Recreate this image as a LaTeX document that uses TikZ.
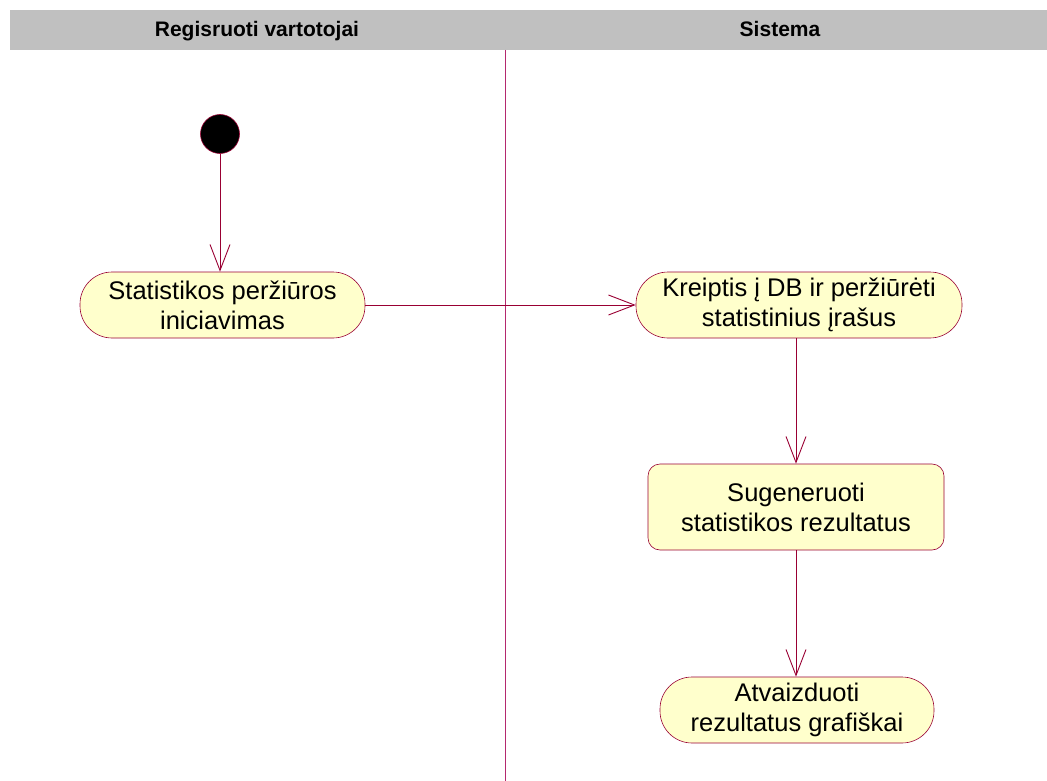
\documentclass[tikz,border=0pt]{standalone}
\usepackage{fontspec}
\setmainfont{Liberation Sans}
\usepackage{tikz}
\usetikzlibrary{arrows.meta}
\definecolor{umlline}{RGB}{153,0,51}
\definecolor{laneline}{RGB}{180,40,110}
\definecolor{umlfill}{RGB}{255,255,204}
\definecolor{lanegray}{RGB}{192,192,192}

\begin{document}
\begin{tikzpicture}[x=1pt, y=-1pt, >={Straight Barb[length=26pt,width=20pt,line width=0.9pt]}, semithick]
    \tikzstyle{lane}=[font=\fontsize{21}{24}\selectfont\bfseries, inner sep=0pt, anchor=base]
    \tikzstyle{start}=[circle, fill=black, draw=umlline, minimum size=39pt, inner sep=0pt]
    \tikzstyle{act}=[rectangle, draw=umlline, fill=umlfill, rounded corners=32pt, minimum height=66pt, align=center, inner sep=0pt, font=\fontsize{25.5}{30}\selectfont]
    \tikzstyle{actbox}=[rectangle, draw=umlline, fill=umlfill, rounded corners=12pt, minimum height=86pt, align=center, inner sep=0pt, font=\fontsize{25.5}{30}\selectfont]
    \tikzstyle{flow}=[->, umlline, line width=0.9pt]

    \useasboundingbox (0,0) rectangle (1047,781);
    \fill[lanegray] (10,10) rectangle (1047,50);
    \node[lane] (l1) at (257,37) {Regisruoti vartotojai};
    \node[lane] (l2) at (780,37) {Sistema};
    \draw[laneline, line width=0.5pt] (505,50) -- (505,781);

    \node[start] (init) at (220,134) {};
    \node[act, minimum width=285pt] (a1) at (222.5,305) {Statistikos peržiūros\\iniciavimas};
    \node[act, minimum width=326pt] (a2) at (799,305) {Kreiptis į DB ir peržiūrėti\\statistinius įrašus};
    \node[actbox, minimum width=296pt] (a3) at (796,507) {Sugeneruoti\\statistikos rezultatus};
    \node[act, minimum width=274pt] (a4) at (797,710) {Atvaizduoti\\rezultatus grafiškai};

    \draw[flow] (init) -- (init |- a1.north);
    \draw[flow] (a1.east) -- (a2.west);
    \draw[flow] (a3.north |- a2.south) -- (a3.north);
    \draw[flow] (a3.south) -- (a3.south |- a4.north);

\end{tikzpicture}
\end{document}
